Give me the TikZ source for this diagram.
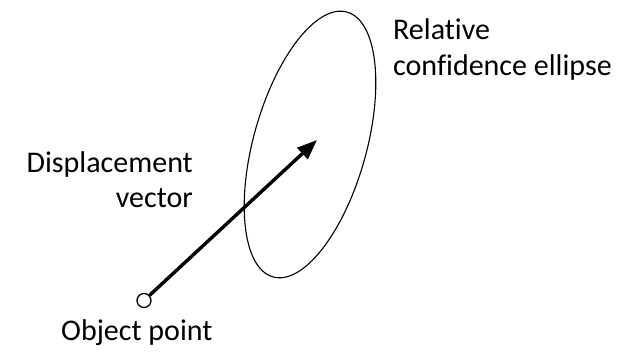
\documentclass[tikz,border=0pt]{standalone}
\usepackage{fontspec}
\setmainfont{Carlito}[Ligatures=NoCommon]
\usetikzlibrary{arrows.meta,shapes.geometric}
\begin{document}
\begin{tikzpicture}[x=1pt,y=-1pt,
  lbl/.style={inner sep=0pt,font=\fontsize{30}{36}\selectfont},
  vec/.style={line width=3.4pt,-{Triangle[length=20pt,width=15pt]}},
  ell/.style={draw,line width=1.1pt}]
\useasboundingbox (0,0) rectangle (636,352);
\node[ell,ellipse,minimum width=275pt,minimum height=113pt,inner sep=0pt,rotate=74.4] (e) at (310,144.5) {};
\node[draw,circle,line width=1.3pt,minimum size=14pt,inner sep=0pt] (o) at (144,300.5) {};
\coordinate (tip) at (317,140);
\draw[vec] (o) -- (tip);
\node[lbl,anchor=base west] (r1) at (393,40) {Relative};
\node[lbl,anchor=base west] (r2) at (393,76) {confidence ellipse};
\node[lbl,anchor=base east] (d1) at (193,173) {Displacement};
\node[lbl,anchor=base east] (d2) at (193,208) {vector};
\node[lbl,anchor=base west] (op) at (61,340) {Object point};
\end{tikzpicture}
\end{document}
